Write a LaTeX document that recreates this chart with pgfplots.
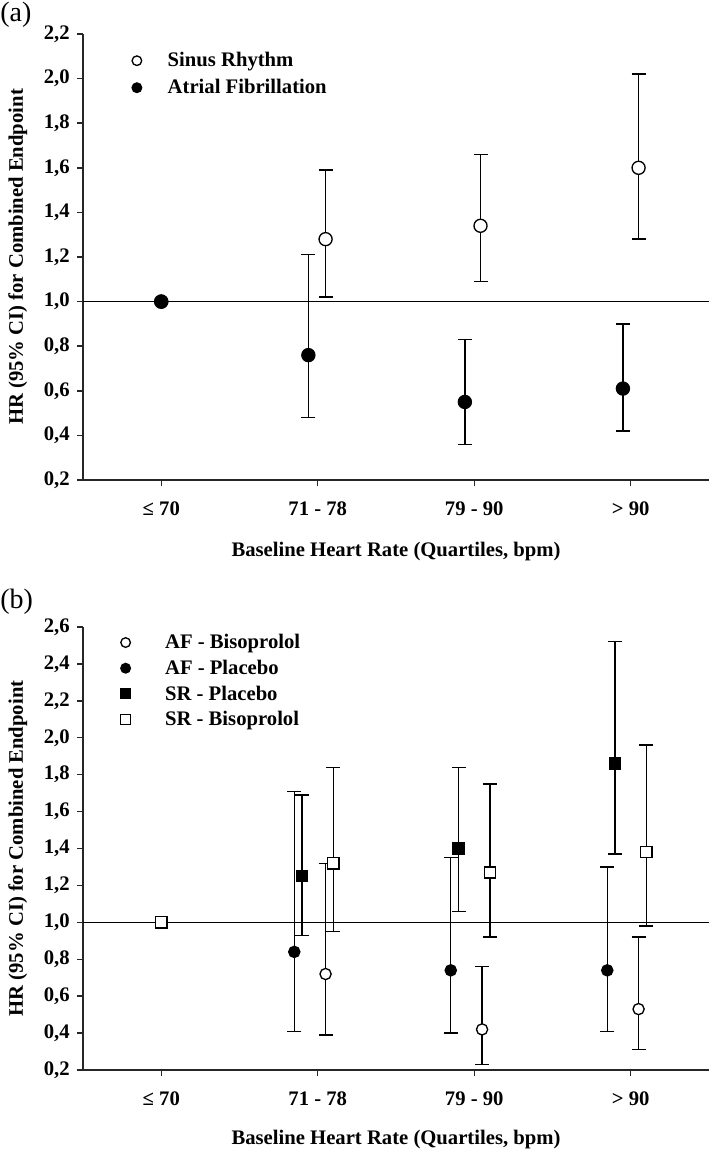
\documentclass[border=0pt]{standalone}
\usepackage{fontspec}
\setmainfont{Liberation Serif}
\usepackage{pgfplots}
\usepackage{pgfplotstable}
\pgfplotsset{compat=1.18}

\pgfplotstableread{
x y lo hi
1.05 1.28 1.02 1.59
2.04 1.34 1.09 1.66
3.05 1.60 1.28 2.02
}\aSR
\pgfplotstableread{
x y lo hi
0.94 0.76 0.48 1.21
1.94 0.55 0.36 0.83
2.95 0.61 0.42 0.90
}\aAF
\pgfplotstableread{
x y lo hi
1.05 0.72 0.39 1.32
2.05 0.42 0.23 0.76
3.05 0.53 0.31 0.92
}\bAFBis
\pgfplotstableread{
x y lo hi
0.85 0.84 0.41 1.71
1.85 0.74 0.40 1.35
2.85 0.74 0.41 1.30
}\bAFPl
\pgfplotstableread{
x y lo hi
0.90 1.25 0.93 1.69
1.90 1.40 1.06 1.84
2.90 1.86 1.37 2.52
}\bSRPl
\pgfplotstableread{
x y lo hi
1.10 1.32 0.95 1.84
2.10 1.27 0.92 1.75
3.10 1.38 0.98 1.96
}\bSRBis

\newcommand\lab{\fontsize{15.5}{18}\selectfont\bfseries}

\pgfplotsset{
  hrbase/.style={
    scale only axis, width=469.5pt,
    xmin=-0.5, xmax=3.5,
    axis x line*=bottom, axis y line*=left,
    axis line style={black!85, line width=1.2pt},
    tick style={black!85, line width=1.1pt},
    tick align=outside, major tick length=4.5pt,
    xtick={0,1,2,3},
    xticklabels={≤ 70, 71 - 78, 79 - 90, > 90},
    ticklabel style={font=\lab},
    xticklabel style={yshift=-8pt},
    yticklabel style={xshift=-2pt, /pgf/number format/.cd, fixed, fixed zerofill, precision=1, use comma, assume math mode=true},
    ytick distance=0.2,
    xlabel={Baseline Heart Rate (Quartiles, bpm)},
    ylabel={HR (95\% CI) for Combined Endpoint},
    label style={font=\lab},
    ylabel style={at={(axis description cs:-0.104,0.5)}, anchor=center},
    legend cell align=left,
    legend style={draw=none, fill=none, font=\lab, inner sep=0pt,
      nodes={inner sep=2pt},
      row sep=4pt},
    legend image code/.code={\draw[#1, mark size=3.6pt] plot coordinates {(0pt,0pt)};},
  },
  ebar/.style={only marks, black, line width=1pt,
    error bars/y dir=both, error bars/y explicit,
    error bars/error bar style={line width=1pt, black},
    error bars/error mark options={rotate=90, mark size=5.25pt, line width=1pt, black}},
  openc/.style={mark=*, mark options={fill=white, draw=black, line width=1pt}},
  fillc/.style={mark=*, mark options={fill=black, draw=black, line width=1pt}},
  opens/.style={mark=square*, mark options={fill=white, draw=black, line width=1pt}},
  fills/.style={mark=square*, mark options={fill=black, draw=black, line width=1pt}},
}

\begin{document}
\begin{tikzpicture}
\useasboundingbox (0,0) rectangle (531.75pt,-866.25pt);

\node[anchor=north west, inner sep=0pt, font=\fontsize{21}{24}\selectfont] at (0pt,-1pt) {(a)};
\node[anchor=north west, inner sep=0pt, font=\fontsize{21}{24}\selectfont] at (0pt,-441.5pt) {(b)};

% Panel (a)
\begin{axis}[hrbase, at={(62.25pt,-360pt)}, anchor=south west,
  height=334.5pt, ymin=0.2, ymax=2.2,
  xlabel style={at={(axis description cs:0.5,-0.160)}, anchor=center},
  legend style={at={(rel axis cs:0.078,0.965)}, anchor=north west,
    /tikz/every odd column/.append style={column sep=17.5pt}},
  mark size=4.9pt]
\addplot[black, line width=1pt, forget plot] coordinates {(-0.5,1) (3.5,1)};
\addplot[ebar, openc] table[x=x, y=y,
  y error plus expr=\thisrow{hi}-\thisrow{y}, y error minus expr=\thisrow{y}-\thisrow{lo}] {\aSR};
\addlegendentry{Sinus Rhythm}
\addplot[ebar, fillc] table[x=x, y=y,
  y error plus expr=\thisrow{hi}-\thisrow{y}, y error minus expr=\thisrow{y}-\thisrow{lo}] {\aAF};
\addlegendentry{Atrial Fibrillation}
\addplot[only marks, openc, forget plot] coordinates {(0,1.0)};
\addplot[only marks, fillc, forget plot] coordinates {(0,1.0)};
\end{axis}

% Panel (b)
\begin{axis}[hrbase, at={(62.25pt,-802.5pt)}, anchor=south west,
  height=332.25pt, ymin=0.2, ymax=2.6,
  xlabel style={at={(axis description cs:0.5,-0.157)}, anchor=center},
  legend style={at={(rel axis cs:0.060,0.99)}, anchor=north west, row sep=3pt,
    /tikz/every odd column/.append style={column sep=24pt}},
  mark size=4.2pt]
\addplot[black, line width=1pt, forget plot] coordinates {(-0.5,1) (3.5,1)};
\addplot[only marks, openc, forget plot] coordinates {(0,1.0)};
\addplot[only marks, fillc, forget plot] coordinates {(0,1.0)};
\addplot[only marks, fills, forget plot] coordinates {(0,1.0)};
\addplot[ebar, openc] table[x=x, y=y,
  y error plus expr=\thisrow{hi}-\thisrow{y}, y error minus expr=\thisrow{y}-\thisrow{lo}] {\bAFBis};
\addlegendentry{AF - Bisoprolol}
\addplot[ebar, fillc] table[x=x, y=y,
  y error plus expr=\thisrow{hi}-\thisrow{y}, y error minus expr=\thisrow{y}-\thisrow{lo}] {\bAFPl};
\addlegendentry{AF - Placebo}
\addplot[ebar, fills] table[x=x, y=y,
  y error plus expr=\thisrow{hi}-\thisrow{y}, y error minus expr=\thisrow{y}-\thisrow{lo}] {\bSRPl};
\addlegendentry{SR - Placebo}
\addplot[ebar, opens] table[x=x, y=y,
  y error plus expr=\thisrow{hi}-\thisrow{y}, y error minus expr=\thisrow{y}-\thisrow{lo}] {\bSRBis};
\addlegendentry{SR - Bisoprolol}
\addplot[only marks, opens, forget plot] coordinates {(0,1.0)};
\end{axis}
\end{tikzpicture}
\end{document}
